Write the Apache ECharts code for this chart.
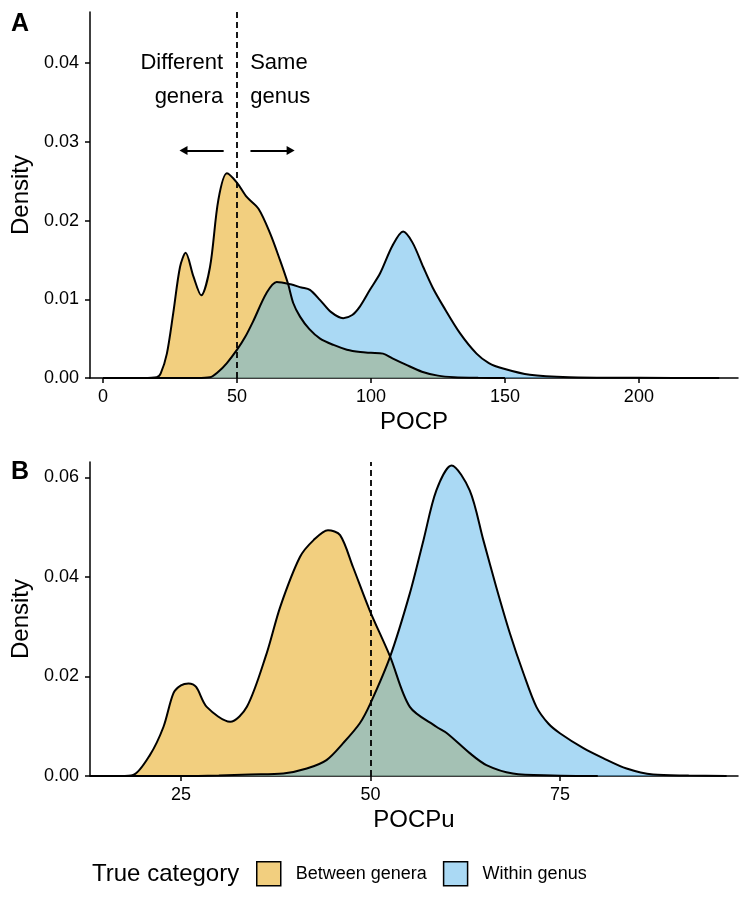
<!DOCTYPE html>
<html>
<head>
<meta charset="utf-8">
<script src="https://cdn.jsdelivr.net/npm/echarts@6/dist/echarts.min.js"></script>
<style>
  html, body { margin: 0; padding: 0; background: #fff; }
  #main { width: 741px; height: 899px; }
</style>
</head>
<body>
<div id="main"></div>
<script>
// panel A : POCP densities
var pocpBetweenX = [0, 15, 20, 21.5, 23.8, 26.2, 28.7, 30.8, 33.7, 36.6, 39.9, 43, 46.2, 50, 53.6, 58, 62.3, 66, 69, 71, 73.5, 77, 81, 86, 91, 96, 100, 104.5, 108, 113, 119, 125, 131, 140, 150];
var pocpBetweenY = [0, 0, 0.0001, 0.0006, 0.0031, 0.0083, 0.0141, 0.0159, 0.0129, 0.0105, 0.0141, 0.0226, 0.026, 0.0248, 0.023, 0.0215, 0.0184, 0.015, 0.012, 0.0095, 0.0078, 0.0062, 0.005, 0.0042, 0.0036, 0.0033, 0.0032, 0.0031, 0.0025, 0.0017, 0.0008, 0.0003, 0.0001, 0.00002, 0];
var pocpWithinX = [0, 35, 39.9, 43, 46.2, 50, 53, 56, 61, 64.8, 70, 74, 77.2, 81, 85, 89.6, 93, 95.9, 99.6, 103.4, 108, 112, 115.5, 119.5, 123, 127, 133.2, 139.4, 144, 149.3, 159.3, 174, 200, 230];
var pocpWithinY = [0, 0, 0.0001, 0.0008, 0.0019, 0.0036, 0.0052, 0.0072, 0.0108, 0.0122, 0.0119, 0.0115, 0.0112, 0.0099, 0.0084, 0.0076, 0.008, 0.0091, 0.0112, 0.0133, 0.0168, 0.0186, 0.0172, 0.0141, 0.0115, 0.0091, 0.0057, 0.0031, 0.0019, 0.0012, 0.0004, 0.0001, 0.00003, 0];

// panel B : POCPu densities
var pocpuBetweenX = [13, 17, 18.7, 20.9, 22.7, 24.0, 25.0, 26.0, 27.0, 28.4, 31.5, 33.7, 36.3, 38.1, 40.7, 42.5, 44.4, 46.0, 47.7, 49.9, 52.6, 55.2, 58.7, 60.1, 63.1, 65.3, 68.8, 74, 80];
var pocpuBetweenY = [0, 0, 0.0002, 0.0042, 0.0099, 0.0166, 0.0182, 0.0186, 0.0179, 0.0139, 0.0109, 0.0139, 0.0246, 0.034, 0.044, 0.0474, 0.0494, 0.0484, 0.042, 0.0333, 0.024, 0.0139, 0.0099, 0.0086, 0.0046, 0.0022, 0.0005, 0.0001, 0];
var pocpuWithinX = [13, 25, 30, 34.1, 38.5, 41.6, 44.2, 46.4, 48.6, 50, 52.6, 55.2, 57.0, 58.7, 60.7, 63.1, 64.9, 66.6, 68.4, 70.2, 71.9, 73.5, 75, 78.1, 80.7, 83.8, 87.3, 92, 97];
var pocpuWithinY = [0, 0, 0.0001, 0.0003, 0.0005, 0.0015, 0.0032, 0.0066, 0.0106, 0.0146, 0.024, 0.0367, 0.0474, 0.0574, 0.0624, 0.0574, 0.0474, 0.038, 0.0287, 0.0206, 0.0139, 0.0105, 0.0086, 0.0056, 0.0036, 0.0015, 0.0003, 0.0001, 0];

var categories = ['Between genera', 'Within genus'];
var ticksA = [0, 50, 100, 150, 200];
var ticksB = [25, 50, 75];
var yTicksA = [0, 0.01, 0.02, 0.03, 0.04];
var yTicksB = [0, 0.02, 0.04, 0.06];
var cutoff = 50;

var FONT = 'Liberation Sans';
var fillYellow = 'rgba(230,159,0,0.5)';
var fillBlue = 'rgba(86,180,233,0.5)';

function zip(xs, ys) {
	var out = [];
	for (var i = 0; i < xs.length; i++) out.push([xs[i], ys[i]]);
	return out;
}

function xAxisOf(idx, min, max, ticks, name) {
	return {
		type: 'value', gridIndex: idx, min: min, max: max,
		name: name, nameLocation: 'middle', nameGap: 32,
		nameTextStyle: { fontFamily: FONT, fontSize: 24, color: '#000' },
		axisLine: { onZero: false, lineStyle: { color: '#000', width: 1.5 } },
		axisTick: { show: true, length: 5, customValues: ticks, lineStyle: { color: '#000', width: 1.5 } },
		axisLabel: { customValues: ticks, margin: 10, fontFamily: FONT, fontSize: 18, color: '#000' },
		splitLine: { show: false }
	};
}

function yAxisOf(idx, max, ticks) {
	return {
		type: 'value', gridIndex: idx, min: 0, max: max,
		name: 'Density', nameLocation: 'middle', nameGap: 51, nameRotate: 90,
		nameTextStyle: { fontFamily: FONT, fontSize: 24, color: '#000' },
		axisLine: { show: true, onZero: false, lineStyle: { color: '#000', width: 1.5 } },
		axisTick: { show: true, length: 5, customValues: ticks, lineStyle: { color: '#000', width: 1.5 } },
		axisLabel: { customValues: ticks, margin: 11, fontFamily: FONT, fontSize: 18, color: '#000',
			formatter: function (v) { return v.toFixed(2); } },
		splitLine: { show: false }
	};
}

function density(name, idx, data, fill) {
	return {
		type: 'line', name: name, xAxisIndex: idx, yAxisIndex: idx,
		data: data, showSymbol: false, symbol: 'none',
		smooth: 0.3,
		lineStyle: { color: '#000', width: 2 },
		itemStyle: { color: fill },
		areaStyle: { color: fill, opacity: 1 }
	};
}

var dashed = {
	silent: true, symbol: ['none', 'none'], label: { show: false },
	lineStyle: { color: '#000', type: [6, 4], width: 1.8 },
	data: [{ xAxis: cutoff }]
};

var arrowStyle = { color: '#000', type: 'solid', width: 1.8 };

var seriesA1 = density(categories[0], 0, zip(pocpBetweenX, pocpBetweenY), fillYellow);
var seriesA2 = density(categories[1], 0, zip(pocpWithinX, pocpWithinY), fillBlue);
seriesA2.markLine = {
	silent: true, label: { show: false }, symbol: ['none', 'none'],
	data: [
		[{ xAxis: cutoff, yAxis: 0, lineStyle: { color: '#000', type: [6, 4], width: 1.8 } }, { xAxis: cutoff, yAxis: 0.0465 }],
		[{ coord: [45, 0.0289], symbol: 'none', lineStyle: arrowStyle }, { coord: [30, 0.0289], symbol: 'triangle', symbolSize: [9, 8], symbolRotate: 90 }],
		[{ coord: [55, 0.0289], symbol: 'none', lineStyle: arrowStyle }, { coord: [70, 0.0289], symbol: 'triangle', symbolSize: [9, 8], symbolRotate: -90 }]
	]
};
seriesA2.markPoint = {
	silent: true, symbol: 'circle', symbolSize: 0,
	label: { show: true, fontFamily: FONT, fontSize: 22, color: '#000', lineHeight: 34, verticalAlign: 'middle' },
	data: [
		{ coord: [44.8, 0.0379], label: { formatter: 'Different\ngenera', align: 'right', position: 'inside' } },
		{ coord: [54.9, 0.0379], label: { formatter: 'Same\ngenus', align: 'left', position: 'inside' } }
	]
};

var seriesB1 = density(categories[0], 1, zip(pocpuBetweenX, pocpuBetweenY), fillYellow);
var seriesB2 = density(categories[1], 1, zip(pocpuWithinX, pocpuWithinY), fillBlue);
seriesB2.markLine = dashed;

var chart = echarts.init(document.getElementById('main'), null, { renderer: 'canvas' });
chart.setOption({
	animation: false,
	backgroundColor: '#fff',
	grid: [
		{ left: 90, top: 12, right: 3, height: 366 },
		{ left: 90, top: 462, right: 3, height: 314 }
	],
	xAxis: [xAxisOf(0, -4.9, 237, ticksA, 'POCP'), xAxisOf(1, 13, 98.5, ticksB, 'POCPu')],
	yAxis: [yAxisOf(0, 0.0465, yTicksA), yAxisOf(1, 0.0631, yTicksB)],
	legend: {
		left: 251, top: 856, orient: 'horizontal',
		icon: 'rect', itemWidth: 24, itemHeight: 24, itemGap: 16,
		textStyle: { fontFamily: FONT, fontSize: 18, color: '#000', padding: [0, 0, 0, 10] },
		data: [
			{ name: categories[0], itemStyle: { color: fillYellow, borderColor: '#000', borderWidth: 1.5 } },
			{ name: categories[1], itemStyle: { color: fillBlue, borderColor: '#000', borderWidth: 1.5 } }
		]
	},
	graphic: [
		{ type: 'text', left: 11, top: 12, style: { text: 'A', font: 'bold 25px ' + FONT, fill: '#000' } },
		{ type: 'text', left: 11, top: 460, style: { text: 'B', font: 'bold 25px ' + FONT, fill: '#000' } },
		{ type: 'text', left: 92, top: 862, style: { text: 'True category', font: '24px ' + FONT, fill: '#000' } }
	],
	series: [seriesA1, seriesA2, seriesB1, seriesB2]
});
</script>
</body>
</html>
